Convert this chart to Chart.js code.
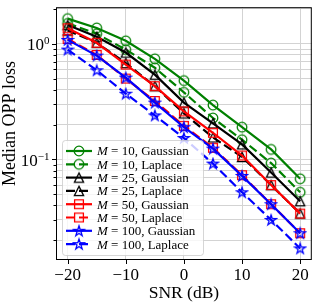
<!DOCTYPE html>
<html>
<head>
<meta charset="utf-8">
<script src="https://cdn.jsdelivr.net/npm/chart.js@4.4.1/dist/chart.umd.min.js"></script>
<style>
  html, body { margin: 0; padding: 0; background: #fff; }
</style>
</head>
<body>
<canvas id="lossChart" width="319" height="306"></canvas>
<script>
// SNR (dB) sample points
const snr = [-20, -15, -10, -5, 0, 5, 10, 15, 20];

// Median OPP loss
const gaussM10   = [1.65, 1.37, 1.06, 0.74, 0.48, 0.295, 0.19, 0.122, 0.068];
const laplaceM10 = [1.50, 1.22, 0.89, 0.62, 0.38, 0.228, 0.148, 0.093, 0.052];
const gaussM25   = [1.45, 1.15, 0.84, 0.54, 0.31, 0.205, 0.135, 0.077, 0.0435];
const laplaceM25 = [1.30, 1.02, 0.68, 0.43, 0.25, 0.155, 0.105, 0.060, 0.034];
const gaussM50   = [1.36, 1.02, 0.66, 0.43, 0.26, 0.17, 0.108, 0.060, 0.034];
const laplaceM50 = [1.10, 0.80, 0.50, 0.32, 0.195, 0.126, 0.073, 0.041, 0.023];
const gaussM100  = [1.08, 0.79, 0.51, 0.31, 0.19, 0.124, 0.072, 0.041, 0.023];
const laplaceM100 = [0.89, 0.59, 0.37, 0.24, 0.153, 0.092, 0.052, 0.030, 0.017];

// axis ticks
const xTicks = [-20, -10, 0, 10, 20];
const yTicks = [0.02, 0.03, 0.04, 0.05, 0.06, 0.07, 0.08, 0.09,
                0.1, 0.2, 0.3, 0.4, 0.5, 0.6, 0.7, 0.8, 0.9, 1, 2];
const yMajor = [0.1, 1];
const yMajorExp = ['\u22121', '0'];

const FONT = "'Liberation Serif', 'DejaVu Serif', serif";
const GRID = '#d3d3d3';

// hollow marker images (matplotlib style)
function makeMarker(shape, color) {
    const c = document.createElement('canvas');
    c.width = 14; c.height = 14;
    const g = c.getContext('2d');
    g.strokeStyle = color;
    g.lineWidth = 1.3;
    g.beginPath();
    if (shape === 'circle') {
        g.arc(7, 7, 4.8, 0, Math.PI * 2);
    } else if (shape === 'square') {
        g.rect(2.6, 2.6, 8.8, 8.8);
    } else if (shape === 'triangle') {
        g.moveTo(7, 2.4); g.lineTo(11.6, 11.6); g.lineTo(2.4, 11.6); g.closePath();
    } else {
        for (let k = 0; k < 10; k++) {
            const r = k % 2 ? 2.1 : 5.4;
            const a = -Math.PI / 2 + k * Math.PI / 5;
            const px = 7 + r * Math.cos(a), py = 7.4 + r * Math.sin(a);
            if (k) g.lineTo(px, py); else g.moveTo(px, py);
        }
        g.closePath();
    }
    g.stroke();
    return c;
}

const series = [
    { m: 10,  noise: 'Gaussian', values: gaussM10,    color: 'green', marker: 'circle',   dashed: false },
    { m: 10,  noise: 'Laplace',  values: laplaceM10,  color: 'green', marker: 'circle',   dashed: true },
    { m: 25,  noise: 'Gaussian', values: gaussM25,    color: 'black', marker: 'triangle', dashed: false },
    { m: 25,  noise: 'Laplace',  values: laplaceM25,  color: 'black', marker: 'triangle', dashed: true },
    { m: 50,  noise: 'Gaussian', values: gaussM50,    color: 'red',   marker: 'square',   dashed: false },
    { m: 50,  noise: 'Laplace',  values: laplaceM50,  color: 'red',   marker: 'square',   dashed: true },
    { m: 100, noise: 'Gaussian', values: gaussM100,   color: 'blue',  marker: 'star',     dashed: false },
    { m: 100, noise: 'Laplace',  values: laplaceM100, color: 'blue',  marker: 'star',     dashed: true }
];
const DASH = [9, 4];

series.forEach(s => { s.img = makeMarker(s.marker, s.color); });

// frame, tick marks, y labels with exponents, y title and the inner legend
const decorations = {
    id: 'decorations',
    afterDatasetsDraw(chart) {
        const { ctx, chartArea: a, scales } = chart;
        ctx.save();

        // spines
        ctx.strokeStyle = '#000';
        ctx.lineWidth = 1;
        ctx.strokeRect(a.left + 0.5, a.top + 0.5, a.right - a.left - 1, a.bottom - a.top - 1);

        // tick marks
        ctx.beginPath();
        xTicks.forEach(v => {
            const px = Math.round(scales.x.getPixelForValue(v)) + 0.5;
            ctx.moveTo(px, a.bottom); ctx.lineTo(px, a.bottom + 4);
        });
        yTicks.forEach(v => {
            const py = Math.round(scales.y.getPixelForValue(v)) + 0.5;
            const len = yMajor.includes(v) ? 4 : 2.5;
            ctx.moveTo(a.left, py); ctx.lineTo(a.left - len, py);
        });
        ctx.stroke();

        // y labels 10^n
        ctx.fillStyle = '#000';
        ctx.textAlign = 'right';
        ctx.textBaseline = 'alphabetic';
        yMajor.forEach((v, i) => {
            const py = scales.y.getPixelForValue(v);
            const right = a.left - 6.5;
            ctx.font = '11px ' + FONT;
            const ew = ctx.measureText(yMajorExp[i]).width;
            ctx.fillText(yMajorExp[i], right, py + 0.5);
            ctx.font = '17px ' + FONT;
            ctx.fillText('10', right - ew, py + 6.5);
        });

        // y title
        ctx.save();
        ctx.translate(10, 123.5);
        ctx.rotate(-Math.PI / 2);
        ctx.textAlign = 'center';
        ctx.textBaseline = 'middle';
        ctx.font = '18px ' + FONT;
        ctx.fillText('Median OPP loss', 0, 0);
        ctx.restore();

        // legend
        const lx = 62, ly = 140, lw = 141, lh = 115;
        ctx.beginPath();
        ctx.roundRect(lx + 0.5, ly + 0.5, lw, lh, 3);
        ctx.fillStyle = 'rgba(255,255,255,0.8)';
        ctx.fill();
        ctx.strokeStyle = 'rgba(204,204,204,0.8)';
        ctx.stroke();

        series.forEach((s, i) => {
            const cy = 151 + i * 13.3;
            ctx.strokeStyle = s.color;
            ctx.lineWidth = 2.2;
            ctx.setLineDash(s.dashed ? DASH : []);
            ctx.beginPath();
            ctx.moveTo(66, cy); ctx.lineTo(92, cy);
            ctx.stroke();
            ctx.setLineDash([]);
            ctx.drawImage(s.img, 79 - 7, cy - 7);

            ctx.fillStyle = '#000';
            ctx.textAlign = 'left';
            ctx.textBaseline = 'middle';
            ctx.font = 'italic 13px ' + FONT;
            ctx.fillText('M', 97, cy + 1);
            const mw = ctx.measureText('M').width;
            ctx.font = '13px ' + FONT;
            ctx.fillText(' = ' + s.m + ', ' + s.noise, 97 + mw, cy + 1);
        });

        ctx.restore();
    }
};

new Chart(document.getElementById('lossChart'), {
    type: 'line',
    data: {
        datasets: series.map((s, i) => ({
            label: 'M = ' + s.m + ', ' + s.noise,
            data: snr.map((x, k) => ({ x: x, y: s.values[k] })),
            borderColor: s.color,
            backgroundColor: s.color,
            borderWidth: 2.2,
            borderDash: s.dashed ? DASH : [],
            borderCapStyle: 'butt',
            pointStyle: s.img,
            pointRadius: 5,
            pointHoverRadius: 5,
            fill: false,
            tension: 0,
            order: series.length - i
        }))
    },
    options: {
        responsive: false,
        animation: false,
        events: [],
        layout: { padding: { top: 1, right: 3, bottom: 0, left: 0 } },
        plugins: {
            legend: { display: false },
            tooltip: { enabled: false }
        },
        scales: {
            x: {
                type: 'linear',
                min: -22,
                max: 22,
                bounds: 'data',
                afterBuildTicks: axis => { axis.ticks = xTicks.map(v => ({ value: v })); },
                afterFit: axis => { axis.height = 46; },
                ticks: {
                    autoSkip: false,
                    maxRotation: 0,
                    padding: 5,
                    color: '#000',
                    font: { family: FONT, size: 17 },
                    callback: v => (v < 0 ? '\u2212' + Math.abs(v) : String(v))
                },
                grid: { color: GRID, lineWidth: 1, drawTicks: false },
                border: { display: false },
                title: {
                    display: true,
                    text: 'SNR (dB)',
                    color: '#000',
                    font: { family: FONT, size: 17.5 },
                    padding: { top: 0, bottom: 2 }
                }
            },
            y: {
                type: 'logarithmic',
                min: 0.0135,
                max: 2.07,
                bounds: 'data',
                afterBuildTicks: axis => { axis.ticks = yTicks.map(v => ({ value: v, major: yMajor.includes(v) })); },
                afterFit: axis => { axis.width = 56; },
                ticks: { display: false },
                grid: { color: GRID, lineWidth: 1, drawTicks: false },
                border: { display: false },
                title: { display: false }
            }
        }
    },
    plugins: [decorations]
});
</script>
</body>
</html>
